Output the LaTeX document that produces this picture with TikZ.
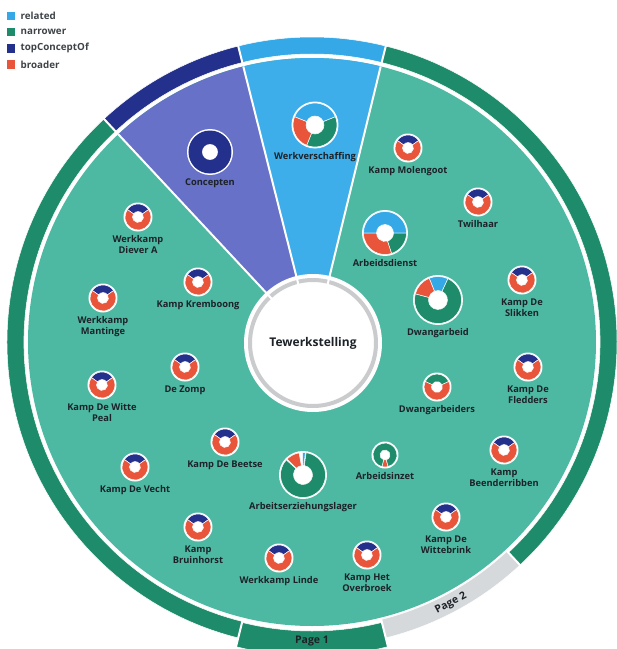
\documentclass[tikz,border=0pt]{standalone}
\usepackage{fontspec}
\setmainfont{Open Sans}
\usepackage{xcolor}
\usepackage{tikz}
\usetikzlibrary{positioning,calc}

\definecolor{related}{HTML}{35A9E8}
\definecolor{narrower}{HTML}{1E8C6A}
\definecolor{topc}{HTML}{23308C}
\definecolor{broader}{HTML}{E8553A}
\definecolor{diskteal}{HTML}{4DB9A3}
\definecolor{topsector}{HTML}{6671C7}
\definecolor{relsector}{HTML}{3DAEEA}
\definecolor{pagegray}{HTML}{D6D9DB}
\definecolor{ringgray}{HTML}{C9CBCC}
\definecolor{labeltext}{HTML}{1C2228}

% one coloured piece of a ring round a named node
\newcommand{\donutseg}[6]{%
  \fill[#2, draw=white, line width=0.5pt] ($(#1)+(#3:#5pt)$) arc[start angle=#3, end angle=#4, radius=#5pt]
    -- ($(#1)+(#4:#6pt)$) arc[start angle=#4, end angle=#3, radius=#6pt] -- cycle;}
\newcommand{\campring}[1]{%
  \donutseg{#1}{topc}{35}{145}{13}{5.5}
  \donutseg{#1}{broader}{145}{395}{13}{5.5}}

\tikzset{
  camp/.style={circle, fill=white, minimum size=29pt, inner sep=0pt},
  bigring/.style={circle, fill=white, minimum size=#1, inner sep=0pt},
  lbl/.style={font=\fontsize{9.3}{11.5}\selectfont\bfseries, text=labeltext, align=center, inner sep=0.5pt},
  pagelbl/.style={font=\fontsize{10.5}{12}\selectfont\bfseries, text=labeltext, inner sep=0.5pt},
  legbox/.style={minimum size=8.5pt, inner sep=0pt},
  legtext/.style={font=\fontsize{9.8}{11}\selectfont\bfseries, text=labeltext!85, inner sep=0pt},
}

\begin{document}
\begin{tikzpicture}[x=1pt,y=1pt]
    \path[use as bounding box] (-312,-307) rectangle (305,342);
    \clip (-312,-307) rectangle (305,342);
    \coordinate (o) at (0,0);

    % Outer ring
    \begin{scope}
        \donutseg{o}{related}{76}{104}{305}{288}
        \donutseg{o}{topc}{104}{133}{305}{288}
        \donutseg{o}{narrower}{133}{256}{305}{288}
        \donutseg{o}{narrower}{256}{284}{314}{289}
        \donutseg{o}{pagegray}{284}{313}{305}{286}
        \donutseg{o}{narrower}{313}{436}{305}{288}
        \foreach \a in {76,104,133,256,284,313}
            \draw[white, line width=2pt] (\a:284pt) -- (\a:316pt);
        \node[pagelbl] (page1) at (-90:299pt) {Page 1};
        \node[pagelbl, rotate=28] (page2) at (-62:296pt) {Page 2};
    \end{scope}

    % Disk and sectors
    \begin{scope}
        \fill[diskteal] (o) circle[radius=284pt];
        \fill[topsector] (o) -- (104:284pt) arc[start angle=104, end angle=133, radius=284pt] -- cycle;
        \fill[relsector] (o) -- (76:284pt) arc[start angle=76, end angle=104, radius=284pt] -- cycle;
        \node[bigring=138pt] (tew) at (1,-1) {};
        \draw[ringgray, line width=4pt] (tew.center) circle[radius=63pt];
        \foreach \a in {76,104,133}
            \draw[white, line width=2pt] ($(tew.center)+(\a:58pt)$) -- (\a:284pt);
        \node[font=\fontsize{12}{14}\selectfont\bfseries, text=labeltext] at (tew.center) {Tewerkstelling};
    \end{scope}

    % Concepts with more than one relation
    \node[bigring=46pt] (concepten) at (-102,190) {};
    \fill[topc, even odd rule] (concepten.center) circle[radius=21.5pt] circle[radius=8pt];
    \node[lbl, below=3pt of concepten] (conceptenlbl) {Concepten};

    \node[bigring=47pt] (werkv) at (3,217) {};
    \donutseg{werkv}{related}{22}{158}{22}{9}
    \donutseg{werkv}{broader}{158}{248}{22}{9}
    \donutseg{werkv}{narrower}{248}{382}{22}{9}
    \node[lbl, below=3pt of werkv] (werkvlbl) {Werkverschaffing};

    \node[bigring=46pt] (adienst) at (73,109) {};
    \donutseg{adienst}{related}{0}{180}{21.5}{8.5}
    \donutseg{adienst}{broader}{180}{288}{21.5}{8.5}
    \donutseg{adienst}{narrower}{288}{360}{21.5}{8.5}
    \node[lbl, below=3pt of adienst] (adienstlbl) {Arbeidsdienst};

    \node[bigring=50pt] (dwang) at (126,42) {};
    \donutseg{dwang}{related}{65}{112}{23.5}{9.5}
    \donutseg{dwang}{broader}{112}{165}{23.5}{9.5}
    \donutseg{dwang}{narrower}{165}{425}{23.5}{9.5}
    \node[lbl, below=3pt of dwang] (dwanglbl) {Dwangarbeid};

    \node[bigring=48pt] (aelager) at (-9,-133) {};
    \donutseg{aelager}{related}{84}{91}{22.5}{9.5}
    \donutseg{aelager}{broader}{100}{135}{22.5}{9.5}
    \donutseg{aelager}{narrower}{138}{442}{22.5}{9.5}
    \node[lbl, below=3pt of aelager] (aelagerlbl) {Arbeitserziehungslager};

    \node[bigring=27pt] (ainzet) at (73,-113) {};
    \donutseg{ainzet}{broader}{255}{285}{12}{5}
    \donutseg{ainzet}{narrower}{285}{615}{12}{5}
    \node[lbl, below=3pt of ainzet] (ainzetlbl) {Arbeidsinzet};

    \node[camp] (dwangers) at (125,-45) {};
    \donutseg{dwangers}{narrower}{25}{155}{13}{5.5}
    \donutseg{dwangers}{broader}{155}{385}{13}{5.5}
    \node[lbl, below=3pt of dwangers] (dwangerslbl) {Dwangarbeiders};

    % Camps (broader only)
    \foreach \n/\p/\t in {
        molengoot/{(96,194)}/Kamp Molengoot,
        twilhaar/{(166,140)}/Twilhaar,
        slikken/{(210,62)}/{Kamp De\\Slikken},
        fledders/{(216,-25)}/{Kamp De\\Fledders},
        beenderribben/{(192,-108)}/{Kamp\\Beenderribben},
        wittebrink/{(134,-175)}/{Kamp De\\Wittebrink},
        overbroek/{(55,-213)}/{Kamp Het\\Overbroek},
        linde/{(-33,-216)}/Werkkamp Linde,
        bruinhorst/{(-114,-185)}/{Kamp\\Bruinhorst},
        vecht/{(-177,-125)}/Kamp De Vecht,
        beetse/{(-87,-100)}/Kamp De Beetse,
        wittepeal/{(-210,-43)}/{Kamp De Witte\\Peal},
        zomp/{(-127,-25)}/De Zomp,
        mantinge/{(-209,44)}/{Werkkamp\\Mantinge},
        kremboong/{(-114,60)}/Kamp Kremboong,
        diever/{(-174,125)}/{Werkkamp\\Diever A}}{
        \node[camp] (\n) at \p {};
        \campring{\n}
        \node[lbl, below=3pt of \n] (\n lbl) {\t};
    }

    % Legend
    \foreach \c/\t [count=\i] in {related/related, narrower/narrower, topc/topConceptOf, broader/broader}{
        \node[legbox, fill=\c] (leg\i) at (-301,342.5-\i*16.3) {};
        \node[legtext, right=5pt of leg\i] (legt\i) {\t};
    }
\end{tikzpicture}
\end{document}
